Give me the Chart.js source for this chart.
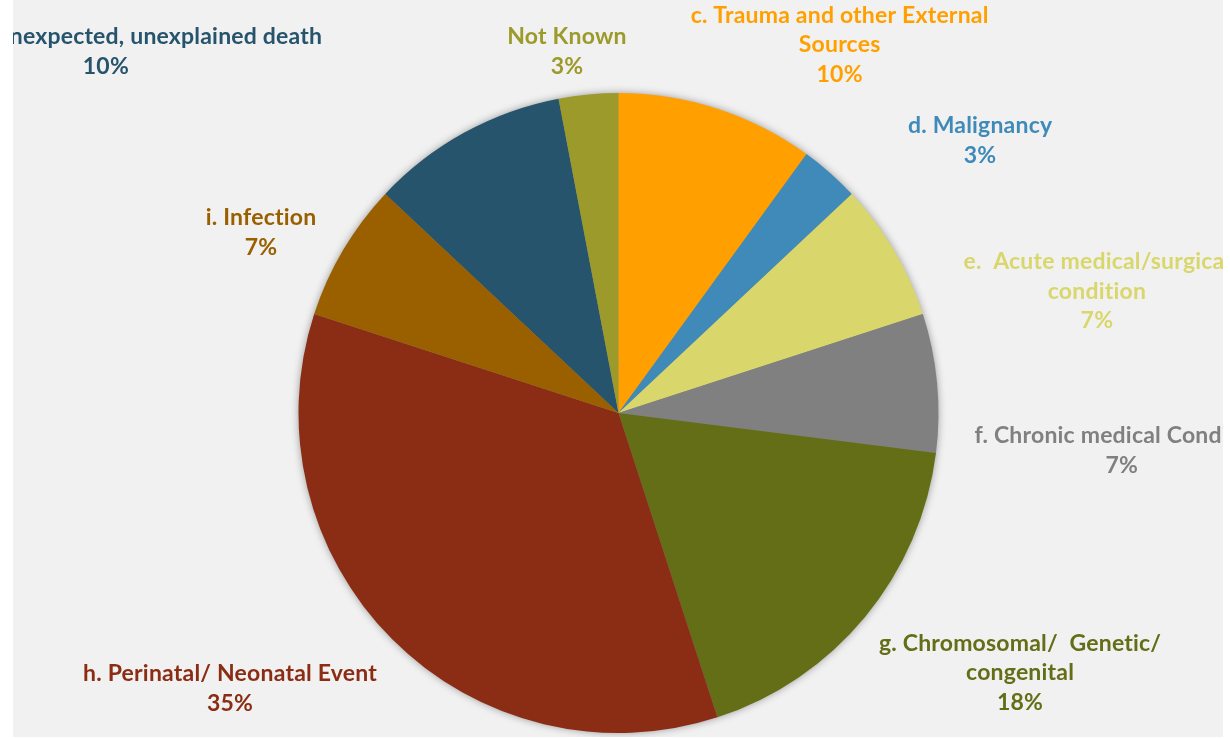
<!DOCTYPE html>
<html>
<head>
<meta charset="utf-8">
<script src="https://cdn.jsdelivr.net/npm/chart.js@4/dist/chart.umd.min.js"></script>
<style>
  html, body { margin: 0; padding: 0; background: #ffffff; }
  #wrap { position: absolute; left: 13px; top: 0; width: 1210px; height: 737px; background: #f1f1f1; overflow: hidden; }
</style>
</head>
<body>
<div id="wrap"><canvas id="chart"></canvas></div>
<script>
// Categories (each entry is a list of text lines)
var categories = [
  ['a. Sudden unexpected, unexplained death'],
  ['Not Known'],
  ['c. Trauma and other External', 'Sources'],
  ['d. Malignancy'],
  ['e.  Acute medical/surgical', 'condition'],
  ['f. Chronic medical Condition'],
  ['g. Chromosomal/  Genetic/', 'congenital'],
  ['h. Perinatal/ Neonatal Event'],
  ['i. Infection']
];

// Share of deaths, percent
var shares = [10, 3, 10, 3, 7, 7, 18, 35, 7];

var colors = ['#26546c', '#9c9a2a', '#ffa000', '#3f8ab8', '#d9d76c', '#808080', '#636e17', '#8a2d14', '#9a6000'];

// label block centres, relative to the pie centre in units of the radius
var labelOffsets = [
  [-1.602, -1.130],
  [-0.161, -1.130],
  [0.691, -1.150],
  [1.130, -0.852],
  [1.495, -0.381],
  [1.573, 0.117],
  [1.255, 0.8125],
  [-1.214, 0.861],
  [-1.117, -0.564]
];

var FONT = 'bold 23px Lato';
var LINE_H = 29.5;

// soft outer shadow behind the whole pie
var pieShadow = {
  id: 'pieShadow',
  beforeDatasetsDraw: function(chart) {
    var arc = chart.getDatasetMeta(0).data[0];
    var ctx = chart.ctx;
    ctx.save();
    ctx.shadowColor = 'rgba(0,0,0,0.45)';
    ctx.shadowBlur = 9;
    ctx.fillStyle = '#888888';
    ctx.beginPath();
    ctx.arc(arc.x, arc.y, arc.outerRadius - 1, 0, Math.PI * 2);
    ctx.fill();
    ctx.restore();
  }
};

var sliceLabels = {
  id: 'sliceLabels',
  afterDatasetsDraw: function(chart) {
    var ctx = chart.ctx;
    var meta = chart.getDatasetMeta(0);
    ctx.save();
    ctx.font = FONT;
    ctx.letterSpacing = '0.2px'; // also stops the "ti" ligature
    ctx.textAlign = 'center';
    ctx.textBaseline = 'middle';
    meta.data.forEach(function(arc, i) {
      var lines = categories[i].concat([shares[i] + '%']);
      var cx = arc.x + labelOffsets[i][0] * arc.outerRadius;
      var cy = arc.y + labelOffsets[i][1] * arc.outerRadius;
      var top = cy - (lines.length - 1) * LINE_H / 2;
      ctx.fillStyle = colors[i];
      lines.forEach(function(line, k) {
        ctx.fillText(line, cx, top + k * LINE_H);
      });
    });
    ctx.restore();
  }
};

new Chart(document.getElementById('chart'), {
  type: 'pie',
  data: {
    labels: categories,
    datasets: [{
      data: shares,
      backgroundColor: colors,
      borderWidth: 0
    }]
  },
  options: {
    responsive: true,
    maintainAspectRatio: false,
    animation: false,
    rotation: -46.8,
    layout: { padding: { top: 93, bottom: 4, left: 1, right: 0 } },
    plugins: {
      legend: { display: false },
      tooltip: { enabled: false }
    }
  },
  plugins: [pieShadow, sliceLabels]
});
</script>
</body>
</html>
